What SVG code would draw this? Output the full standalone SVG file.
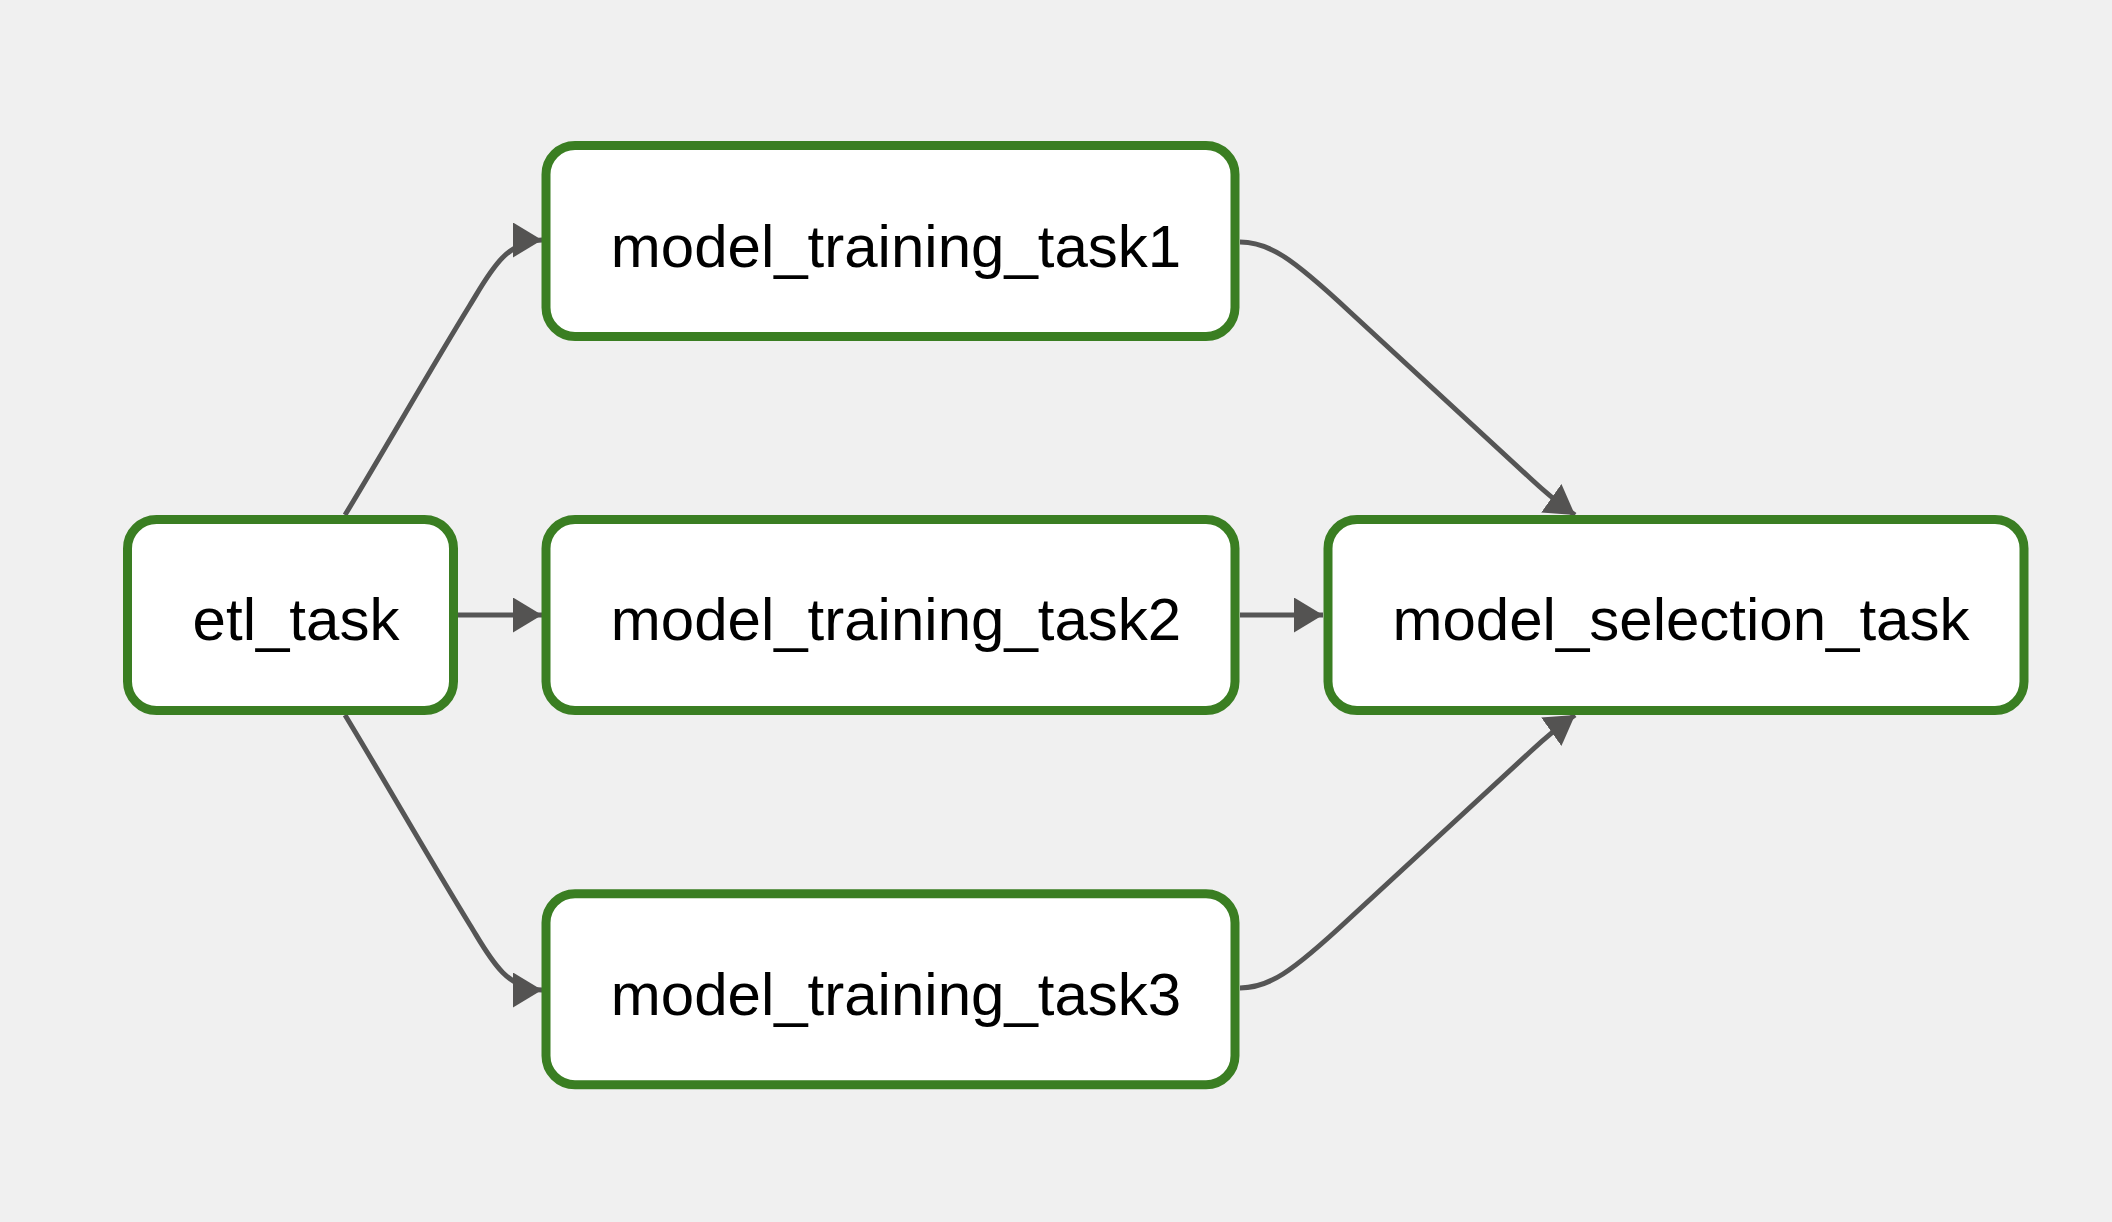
<svg xmlns="http://www.w3.org/2000/svg" width="2112" height="1222" viewBox="0 0 2112 1222">
  <style>
    .node rect { fill: #ffffff; stroke: #3a7e22; stroke-width: 9; }
    .node text { font-family: "Liberation Sans", Arial, Helvetica, sans-serif; font-size: 60px; fill: #000000; text-anchor: middle; }
    .edge { fill: none; stroke: #555555; stroke-width: 5; marker-end: url(#arrow); }
  </style>
  <defs>
    <marker id="arrow" markerUnits="userSpaceOnUse" markerWidth="30" markerHeight="36" refX="29" refY="17.5" orient="auto" viewBox="0 0 30 36">
      <path d="M0,0 L29,17.5 L0,35 z" fill="#545352"/>
    </marker>
  </defs>
  <rect x="0" y="0" width="2112" height="1222" fill="#f0f0f0"/>
  <g id="connectors">
    <path class="edge" d="M345,515 C385,449 430,370 470,305 C488,276 505,240 542,240"/>
    <path class="edge" d="M458,615 L542,615"/>
    <path class="edge" d="M345,715 C385,781 430,860 470,925 C488,954 505,990 542,990"/>
    <path class="edge" d="M1240,242 C1268,242 1290,256 1350,312 L1530,478 C1545,492 1558,503 1575,515"/>
    <path class="edge" d="M1240,615 L1323,615"/>
    <path class="edge" d="M1240,988 C1268,988 1290,974 1350,918 L1530,752 C1545,738 1558,727 1575,715"/>
  </g>
  <g id="etl_task" class="node">
    <rect x="127.5" y="519.5" width="326" height="191" rx="29" ry="29"/>
    <text x="296" y="640">etl_task</text>
  </g>
  <g id="model_training_task1" class="node">
    <rect x="546" y="145.5" width="689" height="191" rx="29" ry="29"/>
    <text x="896" y="266.5">model_training_task1</text>
  </g>
  <g id="model_training_task2" class="node">
    <rect x="546" y="519.5" width="689" height="191" rx="29" ry="29"/>
    <text x="896" y="640">model_training_task2</text>
  </g>
  <g id="model_training_task3" class="node">
    <rect x="546" y="893.8" width="689" height="191" rx="29" ry="29"/>
    <text x="896" y="1014.5">model_training_task3</text>
  </g>
  <g id="model_selection_task" class="node">
    <rect x="1328" y="519.5" width="696" height="191" rx="29" ry="29"/>
    <text x="1681" y="640">model_selection_task</text>
  </g>
</svg>
